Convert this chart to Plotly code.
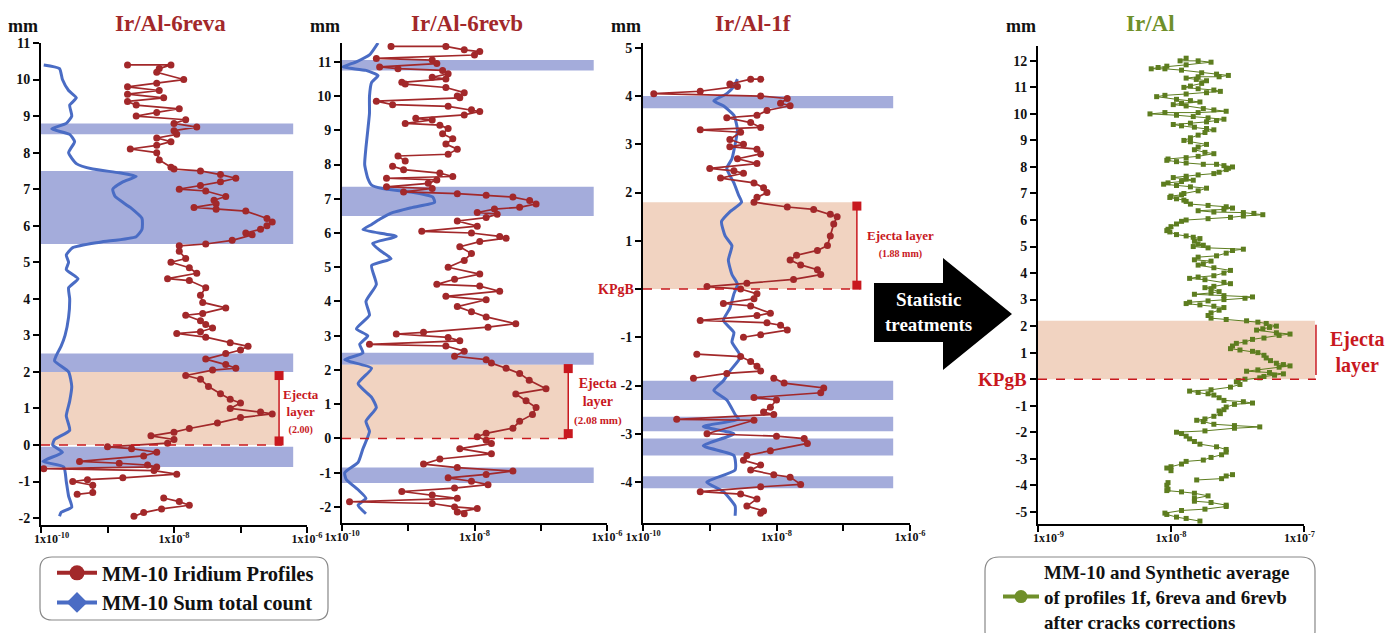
import plotly.graph_objects as go

W, H = 1386, 633
FONT = "Liberation Serif"
RED = "#a2282a"
RED2 = "#c8181e"
BLUE = "#4a6cc4"
BAND = "#a4acdb"
PEACH = "rgba(236,196,172,0.75)"
GREEN = "#5d7d1f"
GREEN_T = "#6f8f2a"

# ---------------- data ----------------
# Panel 1: Ir/Al-6reva
P1_RED_Y = [10.4, 10.4, 10.3, 10.2, 10.0, 9.9, 9.8, 9.7, 9.6, 9.5, 9.4, 9.3, 9.2, 9.1, 9.0, 8.9, 8.8, 8.7, 8.6,
            8.5, 8.4, 8.3, 8.2, 8.1, 8.0, 7.8, 7.6, 7.55, 7.5, 7.4, 7.3, 7.2, 7.1, 7.0, 6.95, 6.8, 6.7, 6.6, 6.5,
            6.45, 6.4, 6.2, 6.1, 6.0, 5.9, 5.8, 5.75, 5.6, 5.5, 5.45, 5.3, 5.1, 5.0, 4.85, 4.7, 4.55, 4.5, 4.3,
            4.1, 3.9, 3.75, 3.6, 3.55, 3.4, 3.3, 3.2, 3.1, 3.05, 2.95, 2.8, 2.7, 2.6, 2.5, 2.35, 2.2, 2.1, 2.05,
            1.9, 1.8, 1.6, 1.4, 1.25, 1.15, 1.0, 0.9, 0.85, 0.75, 0.6, 0.45, 0.35, 0.25, 0.15, 0.05, -0.05,
            -0.1, -0.2, -0.3, -0.45, -0.5, -0.55, -0.6, -0.65, -0.7, -0.8, -0.9, -0.95, -1.0, -1.1, -1.3,
            -1.35, None, -1.45, -1.55, -1.65, -1.75, -1.85, -1.95]
P1_RED_X = [2.0e-9, 9e-9, 6e-9, 5.5e-9, 1.4e-8, 5.5e-9, 2e-9, 6e-9, 2e-9, 7e-9, 2e-9, 2.7e-9, 1.2e-8, 5.5e-9,
            2.7e-9, 1.5e-8, 1e-8, 2.2e-8, 1e-8, 1.1e-8, 5.5e-9, 9e-9, 5.5e-9, 2.2e-9, 5.5e-9, 6e-9, 9e-9,
            1e-8, 2.5e-8, 5e-8, 8.5e-8, 5e-8, 2.5e-8, 1.2e-8, 3e-8, 6e-8, 4e-8, 4.3e-8, 2e-8, 4.3e-8, 1.2e-7,
            2.5e-7, 3e-7, 2.5e-7, 2e-7, 1.2e-7, 1.5e-7, 7.5e-8, 3e-8, 1.2e-8, 1.2e-8, 1.5e-8, 9e-9, 1.7e-8,
            2.2e-8, 8e-9, 1.7e-8, 3e-8, 2.5e-8, 2.7e-8, 6e-8, 2.7e-8, 1.5e-8, 2.5e-8, 3e-8, 3.8e-8, 2.5e-8,
            1.1e-8, 3e-8, 7e-8, 1.3e-7, 1e-7, 6e-8, 3e-8, 6e-8, 8.5e-8, 3.8e-8, 1.5e-8, 2.5e-8, 3.3e-8,
            5e-8, 7e-8, 1e-7, 7e-8, 2e-7, 3e-7, 1e-7, 4.5e-8, 1.7e-8, 1e-8, 4.5e-9, 1e-8, 8e-9, 1e-9,
            2.3e-9, 5.5e-9, 3.5e-9, 3.8e-10, 1.5e-9, 4e-9, 5.5e-9, 1.1e-10, 5e-9, 1.1e-8, 1.7e-9, 5e-10,
            3e-10, 6e-10, 6e-10, 3.5e-10, None, 7e-9, 1.2e-8, 1.7e-8, 6.5e-9, 3.5e-9, 2.5e-9]
P1_BLUE_Y = [10.4, 10.3, 10.0, 9.7, 9.5, 9.3, 9.0, 8.8, 8.65, 8.5, 8.3, 8.0, 7.7, 7.55, 7.45, 7.35, 7.2, 7.0,
             6.8, 6.5, 6.2, 5.9, 5.7, 5.55, 5.4, 5.2, 5.0, 4.8, 4.55, 4.3, 4.0, 3.5, 3.0, 2.7, 2.45, 2.3, 2.0,
             1.6, 1.2, 0.8, 0.4, 0.15, 0.0, -0.2, -0.45, -0.6, -1.0, -1.4, -1.7, -1.85, -1.95]
P1_BLUE_X = [1.1e-10, 1.9e-10, 2.1e-10, 2.6e-10, 3.4e-10, 2.7e-10, 2.9e-10, 2.4e-10, 1.45e-10, 2.7e-10,
             3.2e-10, 2.6e-10, 3.4e-10, 6e-10, 1.5e-9, 2.7e-9, 1.7e-9, 1.2e-9, 1.3e-9, 2.2e-9, 3.3e-9,
             3.3e-9, 2.7e-9, 7.7e-10, 3e-10, 2.4e-10, 2.6e-10, 2.4e-10, 3.6e-10, 2.6e-10, 2.7e-10, 2.6e-10,
             2.3e-10, 2e-10, 1.7e-10, 1.6e-10, 2.6e-10, 2.9e-10, 2.7e-10, 2.4e-10, 2.7e-10, 1.6e-10, 1.5e-10,
             2.1e-10, 1.07e-10, 2.2e-10, 2.4e-10, 2.6e-10, 2.9e-10, 2.0e-10, 1.9e-10]
P1_BANDS = [(8.5, 8.8), (5.5, 7.5), (2.0, 2.5), (-0.6, -0.05)]
P1_EJECTA = (0.0, 2.0)

# Panel 2: Ir/Al-6revb
P2_RED_Y = [11.45, 11.45, 11.35, 11.3, 11.2, 11.1, 11.05, 10.95, 10.85, 10.8, 10.75, 10.65, 10.55, 10.5, 10.4,
            10.35, 10.25, 10.1, 10.0, 9.95, 9.85, 9.75, 9.7, 9.6, 9.55, 9.45, 9.35, 9.3, 9.2, 9.15, 9.05,
            8.9, 8.75, 8.6, 8.45, 8.3, 8.25, 8.1, None, 7.95, 7.85, 7.75, 7.65, 7.6, 7.55, 7.45, 7.35, 7.3,
            7.2, 7.15, 7.1, 7.05, 6.95, 6.85, 6.75, 6.7, 6.6, 6.55, 6.45, 6.35, 6.2, 6.05, 6.0, 5.9, 5.85,
            5.75, 5.6, 5.4, 5.2, 5.0, 4.8, 4.65, 4.5, 4.45, 4.3, 4.15, 4.05, 3.85, 3.7, 3.55, 3.35, 3.25,
            3.1, 3.05, 2.95, 2.85, 2.75, 2.7, 2.55, 2.4, 2.3, 2.2, 2.05, 1.9, 1.7, 1.45, 1.3, 1.1, 0.9, 0.7,
            0.5, 0.3, 0.15, 0.05, -0.05, -0.15, -0.3, -0.45, -0.6, -0.75, -0.85, -0.95, -1.05, -1.15, -1.25,
            -1.35, -1.45, -1.55, -1.65, -1.75, -1.85, -1.9, -2.0, -2.05, -2.15, -2.2]
P2_RED_X = [5.5e-10, 3.7e-9, 7e-9, 1.2e-8, 1e-8, 3.3e-10, 2.3e-9, 2.7e-9, 3.7e-10, 7e-10, 3.3e-9, 4e-9,
            2.3e-9, 3.7e-9, 8e-10, 9e-10, 3.7e-9, 7e-9, 5.5e-9, 6e-9, 3.3e-10, 5.8e-10, 4e-9, 9e-9, 1.2e-8,
            7e-9, 1.3e-9, 2.3e-9, 9e-10, 3e-9, 4e-9, 3.3e-9, 4.7e-9, 3.7e-9, 5.5e-9, 4e-9, 7e-10, 9e-10,
            None, 5.8e-10, 8.5e-10, 3e-9, 4.7e-9, 4.7e-10, 2.7e-9, 2e-9, 4.7e-10, 2.3e-9, 8.5e-10, 5.5e-9,
            1.5e-8, 3.8e-8, 6.8e-8, 8.5e-8, 4.8e-8, 2e-8, 1.1e-8, 2.2e-8, 1.5e-8, 5.5e-9, 1.1e-8, 1.6e-9,
            9e-9, 2.4e-8, 3e-8, 1.2e-8, 6e-9, 9e-9, 7e-9, 4e-9, 1.2e-8, 5e-9, 2.7e-9, 1.2e-8, 2.4e-8,
            3.7e-9, 1.5e-8, 5.5e-9, 9e-9, 1.5e-8, 4.2e-8, 1.6e-8, 1.7e-9, 6.6e-10, 4e-9, 6e-9, 2.6e-10,
            3.7e-9, 7e-9, 5e-9, 1.5e-8, 1.8e-8, 3e-8, 4.8e-8, 6.7e-8, 1.2e-7, 4.2e-8, 6e-8, 8.5e-8, 7.5e-8,
            4.8e-8, 3.8e-8, 1.5e-8, 1.1e-8, 1.5e-8, 1.8e-8, 6e-9, 1.8e-8, 3e-9, 1.7e-9, 5.5e-9, 3.8e-8,
            1.5e-8, 4e-9, 9e-9, 1.6e-8, 5e-9, 8e-10, 2.3e-9, 5.5e-9, 1.3e-10, 2.3e-9, 5e-9, 1.1e-8, 5.5e-9,
            7e-9]
P2_BLUE_Y = [11.55, 11.2, 11.0, 10.85, 10.75, 10.6, 10.4, 10.0, 9.5, 9.0, 8.5, 8.0, 7.6, 7.4, 7.3, 7.2,
             7.05, 6.9, 6.75, 6.6, 6.4, 6.25, 6.1, 5.9, 5.7, 5.5, 5.25, 5.05, 4.5, 4.0, 3.6, 3.2, 3.0, 2.75,
             2.5, 2.3, 2.05, 1.6, 1.2, 0.9, 0.5, 0.2, -0.3, -0.7, -1.0, -1.2, -1.5, -1.75, -1.95, -2.2]
P2_BLUE_X = [3.5e-10, 2.6e-10, 1.65e-10, 1.03e-10, 2.3e-10, 3.5e-10, 2.8e-10, 2.6e-10, 2.6e-10, 2.45e-10,
             2.3e-10, 2.2e-10, 2.45e-10, 2.8e-10, 4.1e-10, 1.05e-9, 2.35e-9, 2.5e-9, 1.17e-9, 5.9e-10,
             3.7e-10, 2.8e-10, 2.07e-10, 6.6e-10, 2.9e-10, 3.7e-10, 5.5e-10, 2.8e-10, 3.3e-10, 2.3e-10,
             2.6e-10, 1.65e-10, 2.45e-10, 1.85e-10, 2.07e-10, 1.1e-10, 2.8e-10, 1.75e-10, 2.8e-10, 3.3e-10,
             2.3e-10, 2.6e-10, 2.07e-10, 1.75e-10, 1.1e-10, 1.16e-10, 1.75e-10, 2.3e-10, 1.75e-10, 2.3e-10]
P2_BANDS = [(10.75, 11.05), (6.5, 7.35), (2.15, 2.5), (-1.3, -0.85)]
P2_EJECTA = (0.0, 2.15)

# Panel 3: Ir/Al-1f
P3_RED_Y = [4.35, 4.35, 4.25, 4.2, 4.1, 4.05, 4.0, 3.95, 3.85, 3.8, 3.7, 3.6, 3.55, 3.45, 3.35, 3.3, 3.25,
            3.1, 3.0, 2.95, 2.9, 2.8, 2.7, 2.6, 2.5, 2.45, 2.4, 2.3, 2.2, 2.1, 2.0, 1.9, 1.8, 1.7, 1.65, 1.55,
            1.5, 1.35, 1.1, 0.9, 0.8, 0.7, 0.6, 0.5, 0.4, 0.3, 0.2, 0.12, 0.05, 0.0, -0.1, -0.2, -0.3, -0.35,
            -0.5, -0.55, -0.65, -0.7, -0.75, -0.85, -0.95, -1.0, None, -1.35, -1.4, -1.5, -1.6, -1.7, -1.75,
            -1.85, None, -1.85, -1.95, -2.05, -2.15, -2.25, -2.3, -2.45, -2.55, -2.6, -2.7, -2.72, -3.0,
            -3.05, -3.1, -3.2, -3.35, -3.45, -3.55, -3.65, -3.75, -3.85, -3.9, -4.05, -4.1, -4.2, -4.25,
            -4.35, -4.5, -4.6, -4.65]
P3_RED_X = [5.8e-9, 4.1e-9, 2.0e-9, 2.6e-9, 7.2e-10, 1.45e-10, 5.8e-9, 1.45e-8, 1.15e-8, 1.6e-8, 7.2e-9,
            5.1e-9, 1.8e-9, 4.1e-9, 5.8e-9, 7.2e-10, 2.9e-9, 2.0e-9, 3.2e-9, 2.0e-9, 5.1e-9, 5.8e-9, 2.6e-9,
            5.1e-9, 1.0e-9, 2.3e-9, 3.2e-9, 1.45e-9, 4.6e-9, 6.4e-9, 7.2e-9, 5.1e-9, 4.6e-9, 1.45e-8, 3.6e-8,
            6.4e-8, 8.1e-8, 7.2e-8, 6.4e-8, 5.8e-8, 4.1e-8, 2.0e-8, 1.6e-8, 2.3e-8, 4.1e-8, 4.6e-8, 1.8e-8,
            3.6e-9, 9.1e-10, 2.9e-9, 5.1e-9, 4.6e-9, 1.6e-9, 4.1e-9, 8.1e-9, 5.1e-9, 7.2e-10, 7.2e-9,
            1.15e-8, 1.45e-8, 5.8e-9, 3.2e-9, None, 6.4e-10, 2.9e-9, 4.1e-9, 5.1e-9, 5.8e-9, 1.8e-9,
            5.7e-10, None, 9.1e-9, 1.3e-8, 5.1e-8, 4.6e-8, 4.6e-9, 1.0e-8, 8.1e-9, 6.4e-9, 9.1e-9, 3.2e-10,
            4.6e-9, 9.1e-10, 1.0e-8, 2.6e-8, 2.9e-8, 8.1e-9, 3.6e-9, 3.2e-9, 5.8e-9, 4.1e-9, 9.1e-9, 1.6e-8,
            2.3e-8, 5.8e-9, 7.2e-10, 2.9e-9, 5.1e-9, 3.6e-9, 6.4e-9, 5.8e-9]
P3_BLUE_Y = [4.35, 4.2, 4.05, 3.9, 3.8, 3.6, 3.3, 3.0, 2.7, 2.5, 2.2, 1.95, 1.8, 1.6, 1.4, 1.1, 0.9, 0.6,
             0.3, 0.1, -0.1, -0.4, -0.65, -0.9, -1.1, -1.4, -1.7, -1.9, -2.1, -2.3, -2.6, -2.7, -2.85, -3.0,
             -3.25, -3.45, -3.75, -4.0, -4.2, -4.5, -4.7]
P3_BLUE_X = [2.6e-9, 2.3e-9, 1.8e-9, 1.15e-9, 1.6e-9, 2.3e-9, 2.6e-9, 2.4e-9, 2.15e-9, 1.8e-9, 2.3e-9,
             2.7e-9, 3.0e-9, 2.0e-9, 1.5e-9, 1.7e-9, 2.15e-9, 1.9e-9, 2.15e-9, 2.6e-9, 2.3e-9, 2.0e-9,
             1.6e-9, 2.3e-9, 2.15e-9, 2.9e-9, 2.0e-9, 1.6e-9, 1.15e-9, 1.8e-9, 2.4e-9, 2.7e-9, 8e-10,
             2.3e-9, 8e-10, 2.3e-9, 2.4e-9, 9e-10, 1.6e-9, 2.4e-9, 2.4e-9]
P3_BANDS = [(3.75, 4.0), (-2.3, -1.9), (-2.95, -2.65), (-3.45, -3.1), (-4.13, -3.88)]
P3_EJECTA = (0.0, 1.8)

# Panel 4: Ir/Al synthetic average
P4_Y = [12.1, 12.0, 12.0, 11.95, 11.85, 11.8, 11.75, 11.7, 11.7, 11.65, 11.55, 11.5, 11.45, 11.4, 11.4, 11.35,
        11.3, 11.25, 11.15, 11.05, 11.0, 10.95, 10.9, 10.85, 10.8, 10.75, 10.7, 10.65, 10.55, 10.5, 10.45,
        10.4, 10.35, 10.3, 10.2, 10.15, 10.1, 10.05, 10.05, 10.0, 9.95, 9.9, 9.85, 9.8, 9.75, 9.7, 9.65, 9.6,
        9.55, 9.5, 9.45, 9.4, 9.3, 9.2, 9.1, 9.0, 8.95, 8.85, 8.75, 8.65, 8.55, 8.5, 8.4, 8.35, 8.3, 8.25,
        8.2, 8.15, 8.1, 8.1, 8.05, 8.0, 7.95, 7.9, 7.8, 7.75, 7.7, 7.65, 7.6, 7.55, 7.5, 7.45, 7.4, 7.35,
        7.3, 7.25, 7.2, 7.1, 7.0, 6.95, 6.9, 6.85, 6.8, 6.75, 6.7, 6.6, 6.55, 6.5, 6.45, 6.4, 6.35, 6.3,
        6.28, 6.25, 6.2, 6.15, 6.1, 6.05, 6.0, 5.95, 5.85, 5.75, 5.65, 5.6, 5.55, 5.45, 5.4, 5.35, 5.3, 5.2,
        5.1, 5.05, 5.0, 4.95, 4.9, 4.85, 4.75, 4.65, 4.6, 4.5, 4.45, 4.35, 4.3, 4.2, 4.1, 4.0, 3.9, 3.85,
        3.8, 3.75, 3.65, 3.6, 3.5, 3.45, 3.4, 3.3, 3.25, 3.2, 3.15, 3.1, 3.05, 3.0, 2.95, 2.9, 2.85, 2.8,
        2.75, 2.7, 2.6, 2.5, 2.4, 2.3, 2.25, 2.2, 2.15, 2.1, 2.0, 1.95, 1.9, 1.85, 1.75, 1.7, 1.65, 1.55,
        1.5, 1.4, 1.35, 1.25, 1.15, 1.1, 1.05, 1.0, 0.9, 0.8, 0.7, 0.6, 0.55, 0.5, 0.45, 0.35, 0.3, 0.25,
        0.2, 0.15, 0.1, 0.05, 0.0, -0.05, -0.1, -0.2, -0.3, -0.4, -0.45, -0.5, -0.55, -0.6, -0.7, -0.8,
        -0.85, -0.9, -0.95, -1.05, -1.15, -1.2, -1.3, -1.4, -1.5, -1.55, -1.6, -1.7, -1.75, -1.8, -1.85,
        -1.95, -2.0, -2.05, -2.15, -2.25, -2.35, -2.45, -2.55, -2.65, -2.75, -2.85, -2.95, -3.05, -3.1,
        -3.2, -3.3, -3.35, -3.45, None, -3.6, -3.65, -3.75, -3.8, None, -3.9, -4.0, -4.15, -4.2, -4.25,
        -4.3, -4.4, -4.5, -4.6, -4.65, -4.75, -4.8, -4.9, -4.95, -5.05, -5.1, -5.2, -5.25, -5.35]
P4_X = [1.3e-8, 1.17e-8, 1.6e-8, 2.0e-8, 1.3e-8, 9.3e-9, 8.0e-9, 7.1e-9, 9.0e-9, 1.2e-8, 1.7e-8, 2.2e-8,
        2.7e-8, 2.3e-8, 1.6e-8, 1.3e-8, 1.55e-8, 1.85e-8, 1.7e-8, 1.4e-8, 1.25e-8, 1.6e-8, 2.1e-8, 2.35e-8,
        1.85e-8, 1.3e-8, 9e-9, 7.8e-9, 1.1e-8, 1.4e-8, 1.65e-8, 1.2e-8, 1.04e-8, 1.3e-8, 1.75e-8, 2.1e-8,
        2.6e-8, 1.6e-8, 9e-9, 6.95e-9, 1.1e-8, 1.47e-8, 1.9e-8, 2.5e-8, 2.2e-8, 1.85e-8, 1.4e-8, 1.04e-8,
        1.2e-8, 1.5e-8, 1.85e-8, 2.1e-8, 1.8e-8, 1.6e-8, 1.4e-8, 1.25e-8, 1.4e-8, 1.85e-8, 1.6e-8, 1.5e-8,
        1.8e-8, 2.1e-8, 1.6e-8, 1.3e-8, 9.5e-9, 9.3e-9, 1.1e-8, 1.3e-8, 1.75e-8, 2.2e-8, 2.5e-8, 2.9e-8,
        2.7e-8, 2.6e-8, 2.3e-8, 2.1e-8, 1.6e-8, 1.3e-8, 1.04e-8, 1.3e-8, 1.47e-8, 1.2e-8, 9.5e-9, 8.8e-9,
        1.1e-8, 1.4e-8, 1.85e-8, 1.6e-8, 1.25e-8, 1.2e-8, 1.0e-8, 9.8e-9, 1.1e-8, 1.25e-8, 1.3e-8, 1.4e-8,
        1.9e-8, 2.6e-8, 2.9e-8, 2.5e-8, 1.6e-8, 2.1e-8, 3.5e-8, 4.2e-8, 4.9e-8, 3.5e-8, 2.8e-8, 1.9e-8,
        1.3e-8, 1.2e-8, 1.1e-8, 1.0e-8, 9.5e-9, 9.3e-9, 9.8e-9, 1.1e-8, 1.3e-8, 1.47e-8, 1.65e-8, 1.5e-8,
        1.6e-8, 1.75e-8, 1.47e-8, 1.9e-8, 3.5e-8, 2.9e-8, 2.6e-8, 2.2e-8, 1.6e-8, 1.5e-8, 2.0e-8, 1.75e-8,
        1.6e-8, 2.1e-8, 2.8e-8, 2.5e-8, 2.1e-8, 1.6e-8, 1.38e-8, 1.8e-8, 2.5e-8, 2.8e-8, 2.1e-8, 1.8e-8,
        2.0e-8, 2.3e-8, 2.0e-8, 1.5e-8, 2.5e-8, 4.1e-8, 3.6e-8, 2.5e-8, 1.9e-8, 1.38e-8, 1.3e-8, 1.65e-8,
        2.1e-8, 2.5e-8, 2.3e-8, 2.0e-8, 1.9e-8, 2.0e-8, 2.6e-8, 3.7e-8, 4.5e-8, 5.2e-8, 6.2e-8, 5.5e-8,
        4.9e-8, 4.4e-8, 6.2e-8, 7.85e-8, 6.5e-8, 5e-8, 4.1e-8, 3.6e-8, 3.1e-8, 2.9e-8, 2.8e-8, 3.3e-8,
        4.1e-8, 4.5e-8, 5.0e-8, 5.2e-8, 5.6e-8, 6.2e-8, 7e-8, 7.85e-8, 6.5e-8, 4.5e-8, 3.7e-8, 5.5e-8,
        7.0e-8, 6.0e-8, 5.0e-8, 4.65e-8, 3.6e-8, 3.2e-8, 3.1e-8, 3.3e-8, 2.8e-8, 2.0e-8, 1.38e-8, 1.6e-8,
        1.9e-8, 2.1e-8, 2.3e-8, 2.5e-8, 3.5e-8, 4.1e-8, 3.0e-8, 2.6e-8, 2.5e-8, 2.3e-8, 2.35e-8, 2.1e-8,
        1.8e-8, 1.56e-8, 1.75e-8, 2.1e-8, 3.0e-8, 4.65e-8, 3.0e-8, 1.8e-8, 1.1e-8, 1.2e-8, 1.3e-8, 1.38e-8,
        1.5e-8, 1.65e-8, 2.2e-8, 2.6e-8, 2.6e-8, 2.4e-8, 2.0e-8, 1.75e-8, 1.3e-8, 1.2e-8, 1.0e-8, 9.3e-9,
        1.0e-8, None, 2.9e-8, 2.6e-8, 2.4e-8, 1.56e-8, None, 9.5e-9, 9.3e-9, 9.5e-9, 9.3e-9, 1.2e-8,
        1.5e-8, 1.9e-8, 1.5e-8, 1.5e-8, 2.0e-8, 2.6e-8, 2.6e-8, 1.8e-8, 1.2e-8, 9e-9, 9.3e-9, 1.1e-8,
        1.3e-8, 1.65e-8]
P4_EJECTA = (0.0, 2.2)

PAD = "&nbsp;" * 7
X_TICKS_A = [1e-10, 1e-9, 1e-8, 1e-7, 1e-6]
X_TEXT_FIRST = [PAD + "1x10<sup>-10</sup>", "", "1x10<sup>-8</sup>", "", "1x10<sup>-6</sup>"]
X_TEXT_A = ["1x10<sup>-10</sup>", "", "1x10<sup>-8</sup>", "", "1x10<sup>-6</sup>"]
X_TICKS_B = [1e-9, 1e-8, 1e-7]
X_TEXT_B = [PAD + "1x10<sup>-9</sup>", "1x10<sup>-8</sup>", "1x10<sup>-7</sup>&nbsp;&nbsp;&nbsp;"]

TITLES = ["Ir/Al-6reva", "Ir/Al-6revb", "Ir/Al-1f", "Ir/Al"]

# --------------- layout helpers ---------------
def px(x):
    return x / W


def py(y):
    return 1 - y / H


def ylabels(vals, kpgb):
    return [("" if (kpgb and v == 0) else str(v)) for v in vals]


PANELS = [
    dict(xp=(41, 307), yp=(43, 525), xr=(-10, -6), yr=(-2.19, 11.0), yt=list(range(-2, 12)), k=False,
         xt=X_TICKS_A, xtt=X_TEXT_FIRST),
    dict(xp=(342, 607), yp=(43, 523), xr=(-10, -6), yr=(-2.47, 11.55), yt=list(range(-2, 12)), k=False,
         xt=X_TICKS_A, xtt=X_TEXT_A),
    dict(xp=(643, 910), yp=(43, 523), xr=(-10, -6), yr=(-4.85, 5.1), yt=list(range(-4, 6)), k=True,
         xt=X_TICKS_A, xtt=X_TEXT_A),
    dict(xp=(1038, 1304), yp=(46, 524), xr=(-9, -7), yr=(-5.46, 12.56), yt=list(range(-5, 13)), k=True,
         xt=X_TICKS_B, xtt=X_TEXT_B),
]

fig = go.Figure()
layout = dict(width=W, height=H, margin=dict(l=0, r=0, t=0, b=0, autoexpand=False), paper_bgcolor="white",
              plot_bgcolor="rgba(0,0,0,0)", font=dict(family=FONT, color="black"), showlegend=True)

for i, p in enumerate(PANELS):
    n = "" if i == 0 else str(i + 1)
    layout["xaxis" + n] = dict(
        type="log", range=list(p["xr"]), domain=[px(p["xp"][0]), px(p["xp"][1])], anchor="y" + n,
        showline=True, linecolor="black", linewidth=2, ticks="outside", ticklen=6, tickwidth=2,
        tickcolor="black", showgrid=False, zeroline=False, tickvals=p["xt"], ticktext=p["xtt"],
        ticklabelstandoff=-4,
        automargin=False, tickfont=dict(family=FONT, size=12, color="#111", weight="bold"), fixedrange=True)
    layout["yaxis" + n] = dict(
        range=list(p["yr"]), domain=[py(p["yp"][1]), py(p["yp"][0])], anchor="x" + n,
        showline=True, linecolor="black", linewidth=2, ticks="outside", ticklen=6, tickwidth=2,
        tickcolor="black", showgrid=False, zeroline=False, tickvals=p["yt"], ticktext=ylabels(p["yt"], p["k"]),
        automargin=False, tickfont=dict(family=FONT, size=14, color="#111", weight="bold"), fixedrange=True)

shapes = []
annotations = []


def band(n, y0, y1, x1, color):
    shapes.append(dict(type="rect", xref="x" + n, yref="y" + n, x0=1e-10, x1=x1, y0=y0, y1=y1,
                       fillcolor=color, line=dict(width=0), layer="below"))


# Panel bands & ejecta
specs = [
    ("", P1_BANDS, P1_EJECTA, 6.2e-7, 3.8e-7, (0.11, 1.9), 4.2e-7),
    ("2", P2_BANDS, P2_EJECTA, 6.3e-7, 2.6e-7, (0.14, 2.04), 2.9e-7),
    ("3", P3_BANDS, P3_EJECTA, 5.6e-7, 1.6e-7, (0.08, 1.72), 1.75e-7),
]
for n, bands, ej, bx, ex, sq, dx in specs:
    for y0, y1 in bands:
        band(n, y0, y1, bx, BAND)
    band(n, ej[0], ej[1], ex, PEACH)
    shapes.append(dict(type="line", xref="x" + n, yref="y" + n, x0=1e-10, x1=dx, y0=0, y1=0,
                       line=dict(color=RED2, width=1.5, dash="dash"), layer="above"))
    shapes.append(dict(type="line", xref="x" + n, yref="y" + n, x0=ex, x1=ex, y0=sq[0], y1=sq[1],
                       line=dict(color=RED2, width=1.5), layer="above"))
    fig.add_trace(go.Scatter(x=[ex, ex], y=list(sq), mode="markers", xaxis="x" + n, yaxis="y" + n,
                             marker=dict(symbol="square", size=9, color=RED2), showlegend=False,
                             hoverinfo="skip", cliponaxis=False))

# Panel 4 peach extends beyond the axis end
shapes.append(dict(type="rect", xref="x4 domain", yref="y4", x0=0, x1=1.041, y0=P4_EJECTA[0],
                   y1=P4_EJECTA[1], fillcolor=PEACH, line=dict(width=0), layer="below"))
shapes.append(dict(type="line", xref="x4 domain", yref="y4", x0=0, x1=1.045, y0=0, y1=0,
                   line=dict(color=RED2, width=1.5, dash="dash"), layer="above"))
shapes.append(dict(type="line", xref="x4 domain", yref="y4", x0=1.045, x1=1.045, y0=0.16, y1=2.05,
                   line=dict(color=RED2, width=1.5), layer="above"))
fig.add_trace(go.Scatter(x=[1.21e-7, 1.21e-7], y=[0.16, 2.05], mode="markers", xaxis="x4", yaxis="y4",
                         marker=dict(symbol="square", size=11, color=RED2), showlegend=False,
                         hoverinfo="skip", cliponaxis=False))

# Data traces
for n, yr, xr, yb, xb in [("", P1_RED_Y, P1_RED_X, P1_BLUE_Y, P1_BLUE_X),
                          ("2", P2_RED_Y, P2_RED_X, P2_BLUE_Y, P2_BLUE_X),
                          ("3", P3_RED_Y, P3_RED_X, P3_BLUE_Y, P3_BLUE_X)]:
    fig.add_trace(go.Scatter(x=xb, y=yb, mode="lines", xaxis="x" + n, yaxis="y" + n,
                             line=dict(color=BLUE, width=3, shape="spline", smoothing=0.5),
                             showlegend=False, hoverinfo="skip"))
    fig.add_trace(go.Scatter(x=xr, y=yr, mode="lines+markers", xaxis="x" + n, yaxis="y" + n,
                             line=dict(color=RED, width=1.7), marker=dict(size=7, color=RED),
                             showlegend=False, hoverinfo="skip"))

fig.add_trace(go.Scatter(x=P4_X, y=P4_Y, mode="lines+markers", xaxis="x4", yaxis="y4",
                         line=dict(color=GREEN, width=1), marker=dict(size=5, symbol="square", color=GREEN),
                         showlegend=False, hoverinfo="skip"))

# Legend-only traces
fig.add_trace(go.Scatter(x=[None], y=[None], mode="lines+markers", name="MM-10 Iridium Profiles",
                         line=dict(color=RED, width=4), marker=dict(size=15, color=RED),
                         legend="legend", legendgroup="a"))
fig.add_trace(go.Scatter(x=[None], y=[None], mode="lines+markers", name="MM-10 Sum total count",
                         line=dict(color=BLUE, width=4), marker=dict(size=16, symbol="diamond", color=BLUE),
                         legend="legend", legendgroup="b"))
fig.add_trace(go.Scatter(x=[None], y=[None], mode="lines+markers",
                         name="MM-10 and Synthetic average<br>of profiles 1f, 6reva and 6revb<br>after cracks corrections",
                         line=dict(color=GREEN_T, width=4), marker=dict(size=13, color=GREEN_T),
                         legend="legend2", xaxis="x4", yaxis="y4"))

layout["legend"] = dict(x=px(52), y=py(553), xanchor="left", yanchor="top", bgcolor="rgba(0,0,0,0)",
                        font=dict(family=FONT, size=20.5, color="#111", weight="bold"), tracegroupgap=0,
                        itemwidth=40, itemclick=False)
layout["legend2"] = dict(x=px(998), y=py(553), xanchor="left", yanchor="top", bgcolor="rgba(0,0,0,0)",
                         font=dict(family=FONT, size=19, color="#111", weight="bold"), itemwidth=36,
                         itemclick=False)


def rrect(x0, y0, x1, y1, r):
    X = lambda v: f"{px(v):.5f}"
    Y = lambda v: f"{py(v):.5f}"
    return (f"M {X(x0 + r)} {Y(y0)} L {X(x1 - r)} {Y(y0)} Q {X(x1)} {Y(y0)} {X(x1)} {Y(y0 + r)} "
            f"L {X(x1)} {Y(y1 - r)} Q {X(x1)} {Y(y1)} {X(x1 - r)} {Y(y1)} L {X(x0 + r)} {Y(y1)} "
            f"Q {X(x0)} {Y(y1)} {X(x0)} {Y(y1 - r)} L {X(x0)} {Y(y0 + r)} Q {X(x0)} {Y(y0)} {X(x0 + r)} {Y(y0)} Z")


shapes.append(dict(type="path", xref="paper", yref="paper", path=rrect(40, 557, 328, 620, 12),
                   line=dict(color="#888", width=1.2)))
shapes.append(dict(type="path", xref="paper", yref="paper", path=rrect(985, 557, 1315, 645, 14),
                   line=dict(color="#888", width=1.2)))

# Arrow
arrow_pts = [(874, 283), (943, 283), (943, 258), (1012, 314), (943, 370), (943, 342), (874, 342)]
path = "M " + " L ".join(f"{px(a):.5f} {py(b):.5f}" for a, b in arrow_pts) + " Z"
shapes.append(dict(type="path", xref="paper", yref="paper", path=path, fillcolor="black",
                   line=dict(color="black", width=0)))
annotations.append(dict(x=px(928), y=py(312), xref="paper", yref="paper", showarrow=False,
                        xanchor="center", yanchor="middle", text="Statistic<br>treatments", align="center",
                        font=dict(family=FONT, size=19, color="white", weight="bold")))

# Titles and mm labels
title_x = [170, 467, 753, 1150]
mm_x = [23, 325, 626, 1021]
for i in range(4):
    annotations.append(dict(x=px(title_x[i]), y=py(24), xref="paper", yref="paper", showarrow=False,
                            xanchor="center", yanchor="middle",
                            text=TITLES[i], font=dict(family=FONT, size=23, weight="bold",
                                                      color=GREEN_T if i == 3 else RED)))
    annotations.append(dict(x=px(mm_x[i]), y=py(26), xref="paper", yref="paper", showarrow=False,
                            xanchor="center", yanchor="middle",
                            text="mm", font=dict(family=FONT, size=18, weight="bold", color="#111")))

# Ejecta labels
annotations += [
    dict(x=px(301), y=0.92, xref="paper", yref="y", showarrow=False, align="center",
         text="Ejecta<br>layer<br><span style='font-size:10px'>(2.00)</span>",
         font=dict(family=FONT, size=13, weight="bold", color=RED2)),
    dict(x=px(598), y=1.07, xref="paper", yref="y2", showarrow=False, align="center",
         text="Ejecta<br>layer<br><span style='font-size:11px'>(2.08 mm)</span>",
         font=dict(family=FONT, size=14, weight="bold", color=RED2)),
    dict(x=px(900), y=0.93, xref="paper", yref="y3", showarrow=False, align="center",
         text="Ejecta layer<br><span style='font-size:10px'>(1.88 mm)</span>",
         font=dict(family=FONT, size=13, weight="bold", color=RED2)),
    dict(x=px(1357), y=1.0, xref="paper", yref="y4", showarrow=False, align="center",
         text="Ejecta<br>layer", font=dict(family=FONT, size=20, weight="bold", color=RED2)),
    dict(x=px(636), y=0, xref="paper", yref="y3", xanchor="right", showarrow=False,
         text="KPgB", font=dict(family=FONT, size=14, weight="bold", color=RED2)),
    dict(x=px(1029), y=0, xref="paper", yref="y4", xanchor="right", showarrow=False,
         text="KPgB", font=dict(family=FONT, size=19, weight="bold", color=RED2)),
]
for a in annotations:
    a.setdefault("xanchor", "center")
    a.setdefault("yanchor", "middle")

layout["shapes"] = shapes
layout["annotations"] = annotations
fig.update_layout(**layout)
fig.write_html("out.html", config={"displayModeBar": False},
               post_script="document.body.style.margin='0';document.body.style.overflow='hidden';")
